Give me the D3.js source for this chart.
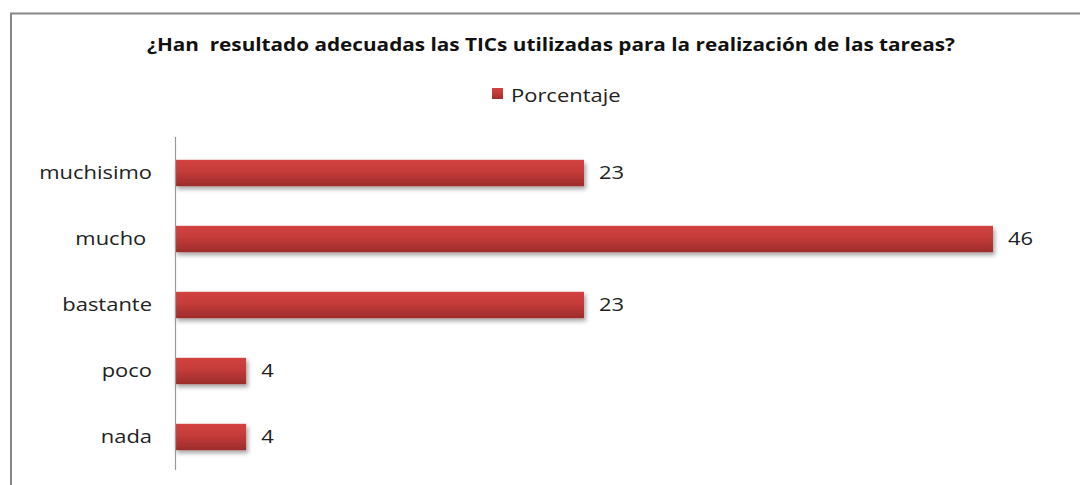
<!DOCTYPE html>
<html><head><meta charset="utf-8">
<script src="https://cdn.jsdelivr.net/npm/d3@7/dist/d3.min.js"></script>
<style>body{margin:0;background:#fff}svg{display:block}text{font-family:"Open Sans",sans-serif}</style>
</head><body><svg id="c" width="1080" height="485"></svg>
<script>
const title = "¿Han  resultado adecuadas las TICs utilizadas para la realización de las tareas?";
const seriesName = "Porcentaje";
const categories = ["muchisimo", "mucho ", "bastante", "poco", "nada"];
const values = [23, 46, 23, 4, 4];

const SX = 1.22;
const svg = d3.select("#c");
const defs = svg.append("defs");
const g = defs.append("linearGradient").attr("id","bg").attr("x1",0).attr("y1",0).attr("x2",0).attr("y2",1);
g.append("stop").attr("offset","0%").attr("stop-color","#d24340");
g.append("stop").attr("offset","45%").attr("stop-color","#c43b39");
g.append("stop").attr("offset","100%").attr("stop-color","#9c2c2b");
const f = defs.append("filter").attr("id","sh").attr("x","-5%").attr("y","-30%").attr("width","115%").attr("height","180%");
f.append("feDropShadow").attr("dx",2).attr("dy",3).attr("stdDeviation",2).attr("flood-color","#000").attr("flood-opacity",0.35);

// frame
svg.append("rect").attr("x",11).attr("y",13.5).attr("width",1100).attr("height",500)
  .attr("fill","none").attr("stroke","#878787").attr("stroke-width",2);

svg.append("text").attr("transform",`translate(551,51) scale(${SX},1)`).attr("text-anchor","middle")
  .attr("font-size",17).attr("font-weight","bold").attr("fill","#111").style("white-space","pre").text(title);

// legend
svg.append("rect").attr("x",492).attr("y",88).attr("width",11).attr("height",11).attr("fill","url(#bg)");
svg.append("text").attr("transform",`translate(511,101.5) scale(${SX},1)`).attr("font-size",18).attr("fill","#222").text(seriesName);

const x = d3.scaleLinear().domain([0,46]).range([175,993]);
const y = d3.scaleBand().domain(categories).range([140,470]).paddingInner(0.6).paddingOuter(0.3);

svg.append("g").selectAll("rect").data(values).join("rect")
  .attr("x",x(0)).attr("y",(d,i)=>y(categories[i]))
  .attr("width",d=>x(d)-x(0)).attr("height",y.bandwidth())
  .attr("fill","url(#bg)").attr("filter","url(#sh)");

svg.append("line").attr("x1",175.5).attr("x2",175.5).attr("y1",137).attr("y2",470)
  .attr("stroke","#9a9a9a").attr("stroke-width",1.2);

svg.append("g").selectAll("text").data(categories).join("text")
  .attr("transform",d=>`translate(152,${y(d)+y.bandwidth()/2}) scale(${SX},1)`).attr("dy","0.35em")
  .attr("text-anchor","end").attr("font-size",18).attr("fill","#222")
  .style("white-space","pre").text(d=>d);

svg.append("g").selectAll("text").data(values).join("text")
  .attr("transform",(d,i)=>`translate(${x(d)+15},${y(categories[i])+y.bandwidth()/2}) scale(${SX},1)`).attr("dy","0.35em")
  .attr("font-size",18).attr("fill","#222").text(d=>d);
</script></body></html>
